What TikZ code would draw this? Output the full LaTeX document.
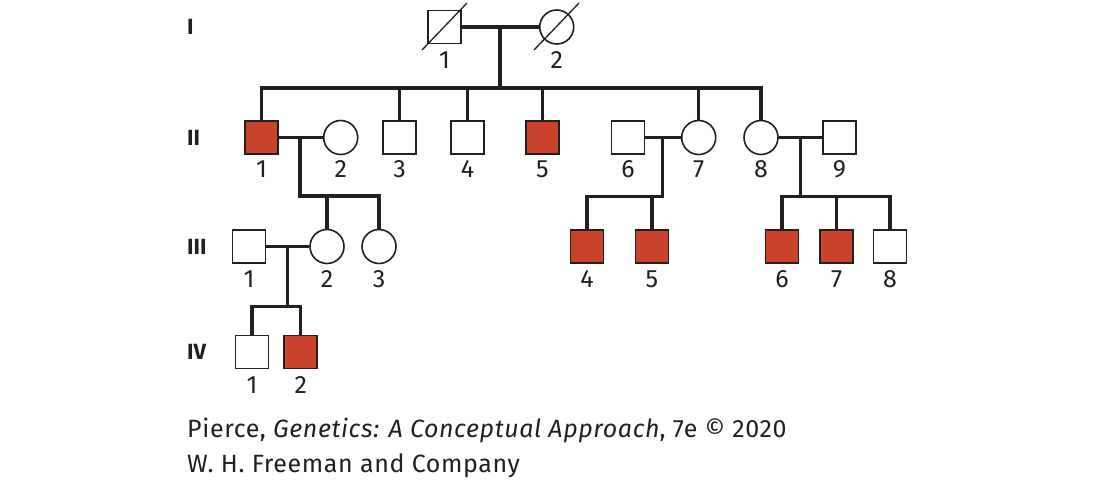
\documentclass[tikz,border=0pt]{standalone}
\usepackage{fontspec}
\setmainfont{Fira Sans}
\newfontfamily\capfont[LetterSpace=2.5]{Fira Sans}
\usetikzlibrary{calc}
\definecolor{aff}{RGB}{201,66,44}
\definecolor{ink}{RGB}{35,31,32}
\begin{document}
\begin{tikzpicture}[x=1pt,y=-1pt,
  male/.style={draw=ink, line width=1.6pt, rectangle, minimum size=33pt, inner sep=0pt, fill=white},
  female/.style={draw=ink, line width=1.6pt, circle, minimum size=34pt, inner sep=0pt, fill=white},
  affected/.style={fill=aff},
  link/.style={draw=ink, line width=3.3pt},
  num/.style={font=\fontsize{25}{25}\selectfont, text=ink, inner sep=0pt},
  gen/.style={font=\fontsize{22}{22}\selectfont\bfseries, text=ink, anchor=west, inner sep=0pt},
  slash/.style={draw=ink, line width=1.3pt},
  captext/.style={font=\capfont\fontsize{25}{25}\selectfont, text=ink, anchor=base west, inner sep=0pt}]
\useasboundingbox (0,0) rectangle (1100,481);

% generation labels
\node[gen] (gI) at (187,27) {I};
\node[gen] (gII) at (187,137.5) {II};
\node[gen] (gIII) at (187,246.5) {III};
\node[gen] (gIV) at (187,352) {IV};

% generation I
\node[male] (I1) at (444.5,27) {};
\node[female] (I2) at (556.7,27) {};
\node[num] (lI1) at ($(I1)+(0,33)$) {1};
\node[num] (lI2) at ($(I2)+(0,33)$) {2};
\draw[slash] ($(I1)+(-22.5,23)$) -- ($(I1)+(22.5,-24)$);
\draw[slash] ($(I2)+(-22.7,23)$) -- ($(I2)+(22.3,-24)$);

% generation II
\node[male,affected] (II1) at (261.5,137.5) {};
\node[female] (II2) at (340.7,137.5) {};
\node[male] (II3) at (399.5,137.5) {};
\node[male] (II4) at (467.5,137.5) {};
\node[male,affected] (II5) at (542.5,137.5) {};
\node[male] (II6) at (628,137.5) {};
\node[female] (II7) at (698.7,137.5) {};
\node[female] (II8) at (761,137.5) {};
\node[male] (II9) at (839.5,137.5) {};
\foreach \n in {1,...,9}{\node[num] (lII\n) at ($(II\n)+(0,31.5)$) {\n};}

% generation III
\node[male] (III1) at (249,246.5) {};
\node[female] (III2) at (327,246.5) {};
\node[female] (III3) at (379,246.5) {};
\node[male,affected] (III4) at (587,246.5) {};
\node[male,affected] (III5) at (652,246.5) {};
\node[male,affected] (III6) at (782,246.5) {};
\node[male,affected] (III7) at (836.7,246.5) {};
\node[male] (III8) at (890,246.5) {};
\foreach \n in {1,...,8}{\node[num] (lIII\n) at ($(III\n)+(0,32.5)$) {\n};}

% generation IV
\node[male] (IV1) at (252,352) {};
\node[male,affected] (IV2) at (300.7,352) {};
\node[num] (lIV1) at ($(IV1)+(0,33)$) {1};
\node[num] (lIV2) at ($(IV2)+(0,33)$) {2};

% coordinates
\coordinate (mI) at (500,27);
\coordinate (sI) at (500,88);
\coordinate (m1) at (300,137.5);
\coordinate (s1) at (300,196);
\coordinate (m3) at (287.3,246.5);
\coordinate (s3) at (287.3,306.7);
\coordinate (m6) at (662.7,137.5);
\coordinate (s6) at (662.7,196.7);
\coordinate (m8) at (800.7,137.5);
\coordinate (s8) at (800.7,196.7);

% connectors I
\draw[link] (I1.east) -- (I2.west);
\draw[link] (mI) -- (sI);
\draw[link] (II1.north) |- (II8.north |- sI) -- (II8.north);
\foreach \n in {3,4,5,7}{\draw[link] (II\n.north) -- (II\n.north |- sI);}

% II1 x II2
\draw[link] (II1.east) -- (II2.west);
\draw[link] (m1) |- (III3.north |- s1) -- (III3.north);
\draw[link] (III2.north) -- (III2.north |- s1);

% III1 x III2
\draw[link] (III1.east) -- (III2.west);
\draw[link] (m3) -- (s3);
\draw[link] (IV1.north) |- (IV2.north |- s3) -- (IV2.north);

% II6 x II7
\draw[link] (II6.east) -- (II7.west);
\draw[link] (m6) |- (III4.north |- s6) -- (III4.north);
\draw[link] (III5.north) -- (III5.north |- s6);

% II8 x II9
\draw[link] (II8.east) -- (II9.west);
\draw[link] (m8) -- (s8);
\draw[link] (III6.north) |- (III8.north |- s8) -- (III8.north);
\draw[link] (III7.north) -- (III7.north |- s8);

% caption
\node[captext] (cap1) at (187,437) {Pierce, \textit{Genetics: A Conceptual Approach}, 7e © 2020};
\node[captext] (cap2) at (187,472) {W. H. Freeman and Company};
\end{tikzpicture}
\end{document}
